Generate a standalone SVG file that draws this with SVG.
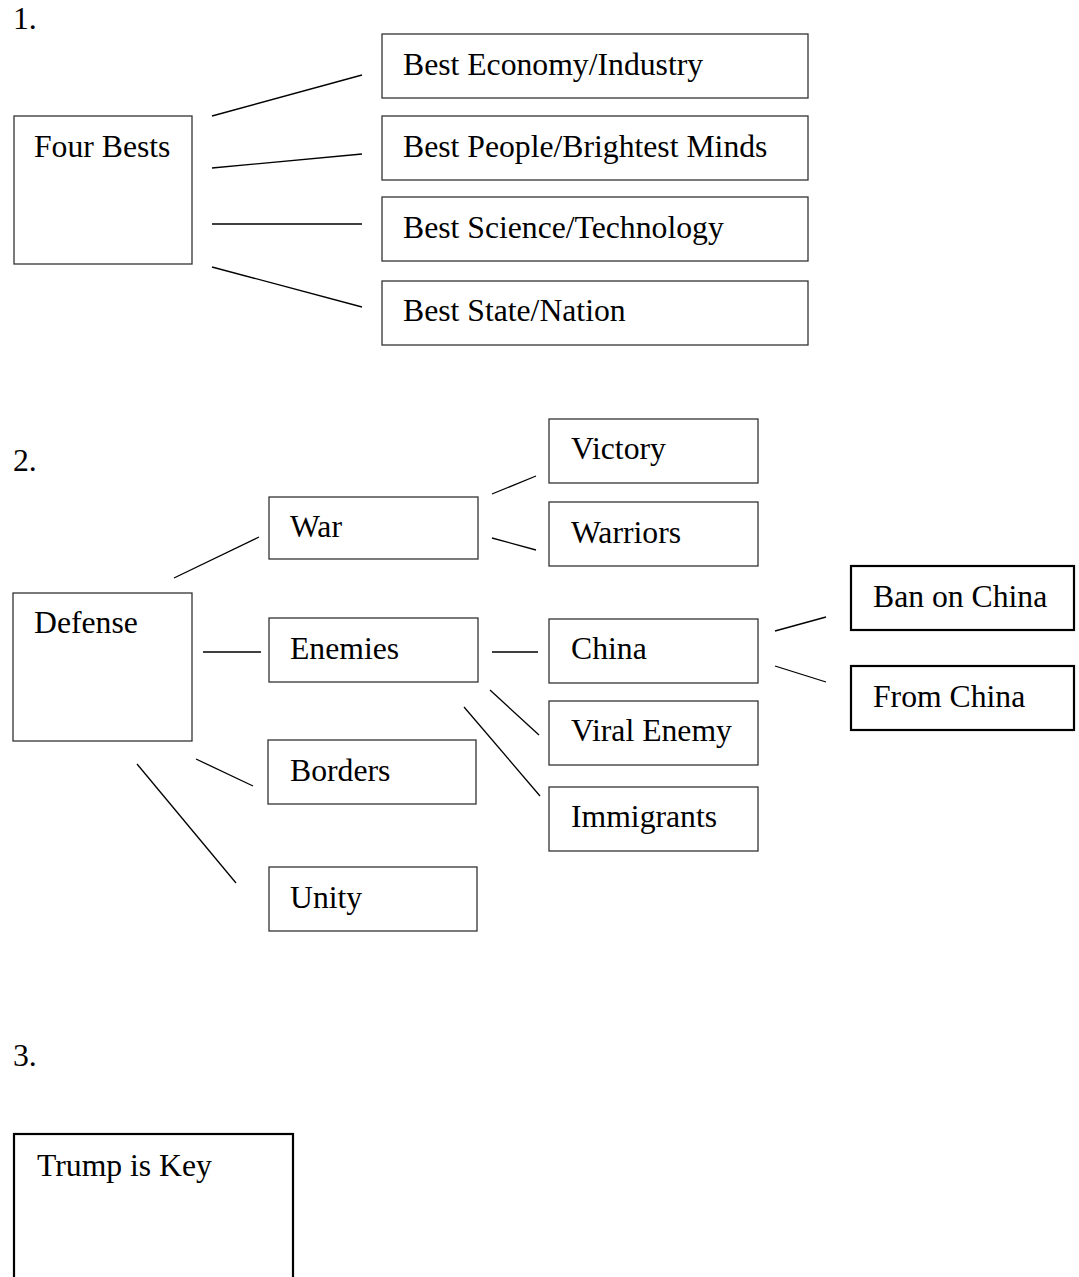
<svg xmlns="http://www.w3.org/2000/svg" width="1079" height="1277" viewBox="0 0 1079 1277">
<style>
  text { font-family: "Liberation Serif", "Times New Roman", serif; font-size: 31.7px; fill: #000; }
  .box { fill: #fff; stroke: #333; stroke-width: 1.3; }
  .bold { fill: #fff; stroke: #000; stroke-width: 2.2; }
  .conn line { stroke: #000; stroke-width: 1.3; }
</style>
<rect width="1079" height="1277" fill="#fff"/>
<text x="13" y="29">1.</text>
<text x="13" y="471">2.</text>
<text x="13" y="1066">3.</text>

<g id="four-bests"><rect class="box" x="14" y="116" width="178" height="148"/><text x="34" y="157">Four Bests</text></g>
<g id="best-economy"><rect class="box" x="382" y="34" width="426" height="64"/><text x="403" y="75">Best Economy/Industry</text></g>
<g id="best-people"><rect class="box" x="382" y="116" width="426" height="64"/><text x="403" y="157">Best People/Brightest Minds</text></g>
<g id="best-science"><rect class="box" x="382" y="197" width="426" height="64"/><text x="403" y="238">Best Science/Technology</text></g>
<g id="best-state"><rect class="box" x="382" y="281" width="426" height="64"/><text x="403" y="321">Best State/Nation</text></g>

<g id="defense"><rect class="box" x="13" y="593" width="179" height="148"/><text x="34" y="633">Defense</text></g>
<g id="war"><rect class="box" x="269" y="497" width="209" height="62"/><text x="290" y="537">War</text></g>
<g id="victory"><rect class="box" x="549" y="419" width="209" height="64"/><text x="571" y="459">Victory</text></g>
<g id="warriors"><rect class="box" x="549" y="502" width="209" height="64"/><text x="571" y="543">Warriors</text></g>
<g id="enemies"><rect class="box" x="269" y="618" width="209" height="64"/><text x="290" y="659">Enemies</text></g>
<g id="china"><rect class="box" x="549" y="619" width="209" height="64"/><text x="571" y="659">China</text></g>
<g id="ban-on-china"><rect class="bold" x="851" y="566" width="223" height="64"/><text x="873" y="607">Ban on China</text></g>
<g id="from-china"><rect class="bold" x="851" y="666" width="223" height="64"/><text x="873" y="707">From China</text></g>
<g id="viral-enemy"><rect class="box" x="549" y="701" width="209" height="64"/><text x="571" y="741">Viral Enemy</text></g>
<g id="borders"><rect class="box" x="268" y="740" width="208" height="64"/><text x="290" y="781">Borders</text></g>
<g id="immigrants"><rect class="box" x="549" y="787" width="209" height="64"/><text x="571" y="827">Immigrants</text></g>
<g id="unity"><rect class="box" x="269" y="867" width="208" height="64"/><text x="290" y="908">Unity</text></g>

<g id="trump-is-key"><rect class="bold" x="14" y="1134" width="279" height="160"/><text x="37" y="1176">Trump is Key</text></g>

<g class="conn" id="connectors">
  <line x1="212" y1="116" x2="362" y2="75"/>
  <line x1="212" y1="168" x2="362" y2="154"/>
  <line x1="212" y1="224" x2="362" y2="224"/>
  <line x1="212" y1="267" x2="362" y2="307"/>
  <line x1="174" y1="578" x2="259" y2="537"/>
  <line x1="492" y1="494" x2="536" y2="476"/>
  <line x1="492" y1="538" x2="536" y2="550"/>
  <line x1="203" y1="652" x2="261" y2="652"/>
  <line x1="492" y1="652" x2="538" y2="652"/>
  <line x1="490" y1="690" x2="539" y2="735"/>
  <line x1="464" y1="707" x2="540" y2="796"/>
  <line x1="775" y1="631" x2="826" y2="617"/>
  <line x1="775" y1="666" x2="826" y2="682"/>
  <line x1="196" y1="759" x2="253" y2="786"/>
  <line x1="137" y1="764" x2="236" y2="883"/>
</g>
</svg>
